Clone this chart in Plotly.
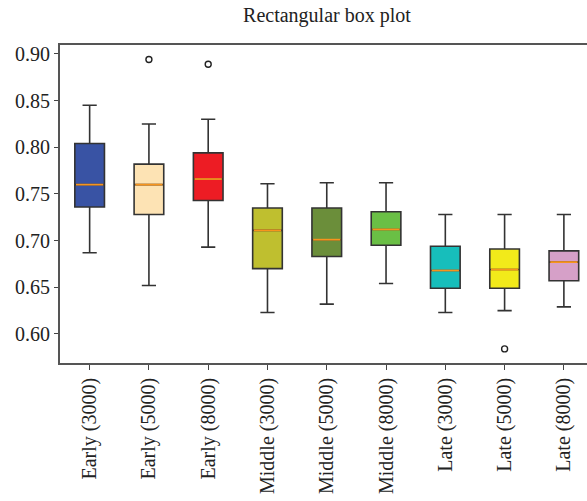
import plotly.graph_objects as go

# Groups and their five-number summaries
categories = ["Early (3000)", "Early (5000)", "Early (8000)",
              "Middle (3000)", "Middle (5000)", "Middle (8000)",
              "Late (3000)", "Late (5000)", "Late (8000)"]
lower_whisker = [0.687, 0.652, 0.693, 0.623, 0.632, 0.654, 0.623, 0.625, 0.629]
q1_values     = [0.736, 0.728, 0.743, 0.670, 0.683, 0.695, 0.649, 0.649, 0.657]
median_values = [0.760, 0.760, 0.766, 0.711, 0.701, 0.712, 0.668, 0.669, 0.677]
q3_values     = [0.804, 0.782, 0.794, 0.735, 0.735, 0.731, 0.694, 0.691, 0.689]
upper_whisker = [0.845, 0.825, 0.830, 0.761, 0.762, 0.762, 0.728, 0.728, 0.728]
outlier_group = [1, 2, 7]
outlier_value = [0.894, 0.889, 0.584]
box_colors = ["#3953a4", "#fde3b4", "#ed1c24", "#bfbf2f", "#6b8e3a",
              "#6abf45", "#17bebb", "#f2ea1a", "#d6a0c8"]

BOX_W = 0.5
positions = list(range(len(categories)))

fig = go.Figure()
for i, name in enumerate(categories):
    fig.add_trace(go.Box(
        x=[positions[i]],
        q1=[q1_values[i]], median=[median_values[i]], q3=[q3_values[i]],
        lowerfence=[lower_whisker[i]], upperfence=[upper_whisker[i]],
        width=BOX_W, whiskerwidth=0.48,
        fillcolor=box_colors[i],
        line=dict(color="#333333", width=1.6),
        boxpoints=False, name=name, showlegend=False, hoverinfo="skip",
    ))

# Orange median lines drawn on top of each box
mx, my = [], []
for i in positions:
    mx += [i - BOX_W / 2 + 0.02, i + BOX_W / 2 - 0.02, None]
    my += [median_values[i], median_values[i], None]
fig.add_trace(go.Scatter(x=mx, y=my, mode="lines",
                         line=dict(color="#f7941d", width=1.8),
                         showlegend=False, hoverinfo="skip"))

# Outliers as open circles
fig.add_trace(go.Scatter(
    x=[positions[g] for g in outlier_group], y=outlier_value, mode="markers",
    marker=dict(symbol="circle-open", size=6, color="#222222",
                line=dict(width=1.4)),
    showlegend=False, hoverinfo="skip"))

font_family = "Liberation Serif, DejaVu Serif, serif"
fig.update_layout(
    width=587, height=501,
    margin=dict(l=60, r=0, t=45, b=138),
    paper_bgcolor="white", plot_bgcolor="white",
    font=dict(family=font_family, color="#222222"),
    title=dict(text="Rectangular box plot", x=0.557, xanchor="center",
               y=0.985, yanchor="top",
               font=dict(family=font_family, size=20, color="#222222")),
)
fig.update_xaxes(
    range=[-0.5, 8.39], tickmode="array", tickvals=positions, ticktext=categories,
    tickangle=-90, tickfont=dict(size=20, color="#222222"),
    ticks="outside", ticklen=5, tickcolor="#444444", tickwidth=1.3,
    showline=True, linecolor="#555555", linewidth=1.8, mirror=True,
    showgrid=False, zeroline=False,
)
fig.update_yaxes(
    range=[0.5689, 0.9096], tickvals=[0.60, 0.65, 0.70, 0.75, 0.80, 0.85, 0.90],
    tickformat=".2f", tickfont=dict(size=20, color="#222222"),
    ticks="outside", ticklen=4, tickcolor="#444444", tickwidth=1.3,
    showline=True, linecolor="#555555", linewidth=1.8,
    showgrid=False, zeroline=False,
)

fig.write_html("out.html")
